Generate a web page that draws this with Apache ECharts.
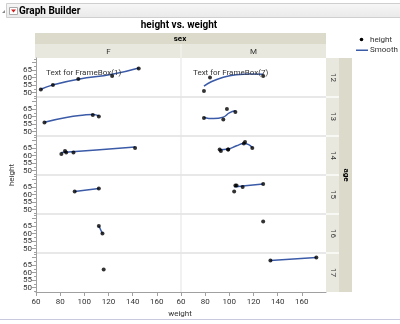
<!DOCTYPE html>
<html><head><meta charset="utf-8">
<script src="https://cdn.jsdelivr.net/npm/echarts@6/dist/echarts.min.js"></script>
<style>html,body{margin:0;padding:0;background:#fff;}#c{width:400px;height:324px;}</style>
</head><body><div id="c"></div>
<script>
// ---- data (JMP Big Class) ----
const sexCats = ['F', 'M'];
const ageCats = [12, 13, 14, 15, 16, 17];
const xTicks = [60, 80, 100, 120, 140, 160];
const yTicksA = [50, 60];
const yTicksB = [55, 65];
const yMajorTicks = [50, 55, 60, 65, 70];
const yMinorTicks = [47.5, 52.5, 57.5, 62.5, 67.5, 72.5];
const age    = [12,12,12,12,12,12,12,12,13,13,13,13,13,13,13,14,14,14,14,14,14,14,14,14,14,14,14,15,15,15,15,15,15,15,16,16,16,17,17,17];
const sex    = ['F','F','F','F','F','M','M','M','F','F','F','M','M','M','M','F','F','F','F','F','M','M','M','M','M','M','M','F','F','M','M','M','M','M','F','F','M','F','M','M'];
const height = [59,61,55,66,52,60,61,51,60,61,56,65,63,58,59,61,62,65,63,62,63,64,65,64,68,64,69,62,64,67,65,66,62,66,65,60,68,62,68,70];
const weight = [95,123,74,145,64,84,128,79,112,107,67,98,105,95,79,81,91,142,84,85,93,99,119,92,112,99,113,92,112,128,111,105,104,106,112,115,128,116,134,172];
// smoother curves: [weight, height]
const smoothF12 = [[64,52.2],[74,55.1],[95,58.9],[123,62.1],[145,66.3]];
const smoothM12 = [[79,54.2],[85,57.2],[95,60.2],[106,61.9],[117,62.4],[128,62.2]];
const smoothF13 = [[67,56.2],[85,59.3],[100,61.0],[107,61.4],[112,60.4]];
const smoothM13 = [[79,59.4],[87,58.6],[95,59.6],[100,62.4],[105,63.8]];
const smoothF14 = [[81,62.0],[110,63.7],[142,65.6]];
const smoothM14 = [[92,63.8],[99,64.3],[106,66.5],[112,68.0],[116,67.2],[119,65.2]];
const smoothF15 = [[92,62],[112,64]];
const smoothM15 = [[104,65.1],[111,65.6],[128,67]];
const smoothF16 = [[112,65],[115,60]];
const smoothM16 = [];
const smoothF17 = [];
const smoothM17 = [[134,68],[172,70]];
const smoothCurves = {F12:smoothF12,M12:smoothM12,F13:smoothF13,M13:smoothM13,F14:smoothF14,M14:smoothM14,
  F15:smoothF15,M15:smoothM15,F16:smoothF16,M16:smoothM16,F17:smoothF17,M17:smoothM17};

const FONT = 'Roboto, "Noto Sans", sans-serif';
const AX = '#a0a0a0';
const TXT = '#333';
const chart = echarts.init(document.getElementById('c'), null, {renderer: 'canvas'});

const L = [36, 181], W = 145, T0 = 58, H = 39;
const grids = [], xAxes = [], yAxes = [], series = [];
const ylab = {fontSize: 8, color: TXT, margin: 4, fontFamily: FONT, hideOverlap: false};
ageCats.forEach((a, r) => {
  sexCats.forEach((s, c) => {
    const g = grids.length;
    grids.push({left: L[c], top: T0 + r * H, width: W, height: H, containLabel: false});
    const bottom = r === ageCats.length - 1;
    xAxes.push({gridIndex: g, type: 'value', min: 60, max: 180, show: bottom,
      axisLine: {show: true, lineStyle: {color: AX}},
      axisTick: {show: true, length: 4, customValues: xTicks, lineStyle: {color: AX}},
      axisLabel: {customValues: xTicks, fontSize: 8, color: TXT, margin: 6, fontFamily: FONT, hideOverlap: false},
      splitLine: {show: false}});
    const yi = yAxes.length;
    yAxes.push({gridIndex: g, type: 'value', min: 47, max: 73, show: c === 0, position: 'left',
      axisLine: {show: true, lineStyle: {color: AX}},
      axisTick: {show: true, length: 4, customValues: yMajorTicks, lineStyle: {color: AX}},
      axisLabel: Object.assign({customValues: yTicksA}, ylab),
      splitLine: {show: false}});
    yAxes.push({gridIndex: g, type: 'value', min: 47, max: 73, show: c === 0, position: 'left',
      axisLine: {show: false},
      axisTick: {show: true, length: 2, customValues: yMinorTicks, lineStyle: {color: AX}},
      axisLabel: Object.assign({customValues: yTicksB}, ylab),
      splitLine: {show: false}});
    const pts = [];
    for (let i = 0; i < age.length; i++) if (age[i] === a && sex[i] === s) pts.push([weight[i], height[i]]);
    series.push({type: 'line', xAxisIndex: g, yAxisIndex: yi, data: smoothCurves[s + a], smooth: 0.5,
      showSymbol: false, lineStyle: {color: '#3b5ba8', width: 1.5}, silent: true, z: 2});
    series.push({type: 'scatter', xAxisIndex: g, yAxisIndex: yi, data: pts, symbolSize: 4,
      itemStyle: {color: '#000'}, silent: true, z: 3});
  });
});

const gfx = [];
// top title bar
gfx.push({type: 'rect', shape: {x: 6.5, y: 3.5, width: 400, height: 14},
  style: {fill: new echarts.graphic.LinearGradient(0,0,0,1,[{offset:0,color:'#f7f7f7'},{offset:1,color:'#e9e9e9'}]), stroke: '#cfcfcf', lineWidth: 1}});
gfx.push({type: 'polygon', shape: {points: [[2,13],[5,13],[5,10]]}, style: {fill: '#888'}});
gfx.push({type: 'rect', shape: {x: 9.5, y: 7.5, width: 8, height: 7}, style: {fill: '#fff', stroke: '#aaa', lineWidth: 1}});
gfx.push({type: 'polygon', shape: {points: [[11,9.5],[16,9.5],[13.5,12.5]]}, style: {fill: '#d02020'}});
gfx.push({type: 'text', x: 19, y: 11, style: {text: 'Graph Builder', font: 'bold 10px ' + FONT, fill: '#000', verticalAlign: 'middle'}});
// bottom line
gfx.push({type: 'rect', shape: {x: 0, y: 319, width: 400, height: 1}, style: {fill: '#c8c8de'}});
// chart title
gfx.push({type: 'text', x: 179, y: 25, style: {text: 'height vs. weight', font: 'bold 10px ' + FONT, fill: '#000', align: 'center', verticalAlign: 'middle'}});
// header bands
gfx.push({type: 'rect', shape: {x: 35, y: 33, width: 291, height: 11}, style: {fill: '#dcdbcb'}});
gfx.push({type: 'rect', shape: {x: 35, y: 44, width: 291, height: 14}, style: {fill: '#e9e8df'}});
gfx.push({type: 'rect', shape: {x: 180.5, y: 44, width: 1, height: 14}, style: {fill: '#f6f6f2'}});
gfx.push({type: 'text', x: 180, y: 39, style: {text: 'sex', font: 'bold 8px ' + FONT, fill: '#000', align: 'center', verticalAlign: 'middle'}});
sexCats.forEach((s, c) => gfx.push({type: 'text', x: L[c] + W / 2, y: 51.5,
  style: {text: s, font: '8px ' + FONT, fill: TXT, align: 'center', verticalAlign: 'middle'}}));
// right strips
gfx.push({type: 'rect', shape: {x: 326, y: 58, width: 13, height: 234}, style: {fill: '#e9e8df'}});
gfx.push({type: 'rect', shape: {x: 339, y: 58, width: 13, height: 234}, style: {fill: '#dcdbcb'}});
ageCats.forEach((a, r) => {
  if (r > 0) gfx.push({type: 'rect', shape: {x: 326, y: T0 + r * H - 1, width: 13, height: 2}, style: {fill: '#f7f7f3'}});
  gfx.push({type: 'text', x: 333, y: T0 + r * H + H / 2, rotation: -Math.PI / 2,
    style: {text: String(a), font: '8px ' + FONT, fill: TXT, align: 'center', verticalAlign: 'middle'}});
});
gfx.push({type: 'text', x: 345.5, y: 175, rotation: -Math.PI / 2,
  style: {text: 'age', font: 'bold 8px ' + FONT, fill: '#000', align: 'center', verticalAlign: 'middle'}});
// plot dividers
ageCats.forEach((a, r) => {
  if (r > 0) gfx.push({type: 'rect', shape: {x: 36, y: T0 + r * H - 1, width: 290, height: 2}, style: {fill: '#e8e8e8'}, z: 0});
});
gfx.push({type: 'rect', shape: {x: 180.5, y: 58, width: 1, height: 234}, style: {fill: '#e4e4e4'}, z: 0});
// axis titles
gfx.push({type: 'text', x: 12, y: 175, rotation: Math.PI / 2,
  style: {text: 'height', font: '8px ' + FONT, fill: TXT, align: 'center', verticalAlign: 'middle'}});
gfx.push({type: 'text', x: 180, y: 314, style: {text: 'weight', font: '8px ' + FONT, fill: TXT, align: 'center', verticalAlign: 'middle'}});
// frame box texts
gfx.push({type: 'text', x: 46, y: 73, style: {text: 'Text for FrameBox(1)', font: '8px ' + FONT, fill: TXT, verticalAlign: 'middle'}, z: 10});
gfx.push({type: 'text', x: 193, y: 73, style: {text: 'Text for FrameBox(7)', font: '8px ' + FONT, fill: TXT, verticalAlign: 'middle'}, z: 10});
// legend
gfx.push({type: 'circle', shape: {cx: 361.5, cy: 39.5, r: 1.8}, style: {fill: '#000'}});
gfx.push({type: 'text', x: 370, y: 39.5, style: {text: 'height', font: '8px ' + FONT, fill: TXT, verticalAlign: 'middle'}});
gfx.push({type: 'rect', shape: {x: 356, y: 49.5, width: 12, height: 1.5}, style: {fill: '#3b5ba8'}});
gfx.push({type: 'text', x: 370, y: 50, style: {text: 'Smooth', font: '8px ' + FONT, fill: TXT, verticalAlign: 'middle'}});

chart.setOption({animation: false, backgroundColor: '#fff', grid: grids, xAxis: xAxes, yAxis: yAxes, series: series, graphic: gfx});
</script></body></html>
